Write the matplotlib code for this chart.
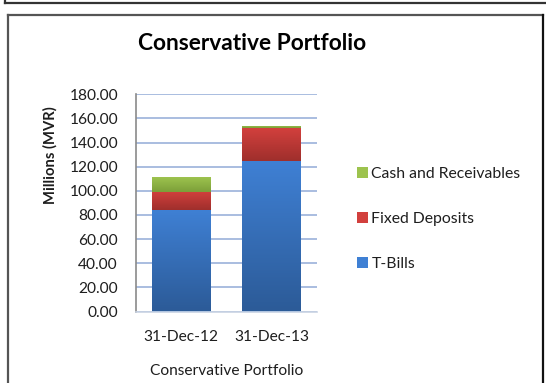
import numpy as np
import matplotlib
matplotlib.use("Agg")
import matplotlib.pyplot as plt
from matplotlib.colors import LinearSegmentedColormap
from matplotlib.patches import Patch
from matplotlib.lines import Line2D

# Data (millions of MVR)
dates = ["31-Dec-12", "31-Dec-13"]
t_bills = [84.2, 124.7]
fixed_deposits = [15.2, 27.0]
cash_receivables = [11.7, 2.2]
y_ticks = [0, 20, 40, 60, 80, 100, 120, 140, 160, 180]

series = [
    ("T-Bills", t_bills, "#3F80D4", "#2C5B98"),
    ("Fixed Deposits", fixed_deposits, "#D2403D", "#9F2F2C"),
    ("Cash and Receivables", cash_receivables, "#9DC34E", "#7C9F39"),
]

plt.rcParams["font.family"] = ["Lato", "DejaVu Sans"]

W, H = 546, 383
fig = plt.figure(figsize=(W / 100, H / 100), dpi=100)
fig.patch.set_facecolor("white")

ax = fig.add_axes([136 / W, 1 - 311.5 / H, 181 / W, 217.2 / H])
x = np.arange(len(dates))
bar_w = 0.65
bottoms = np.zeros(len(dates))
handles = []
for name, vals, top_c, bot_c in series:
    bars = ax.bar(x, vals, bar_w, bottom=bottoms, color=top_c, linewidth=0, zorder=2)
    cmap = LinearSegmentedColormap.from_list(name, [bot_c, top_c])
    grad = np.linspace(0, 1, 64).reshape(-1, 1)
    for rect in bars:
        x0, y0 = rect.get_x(), rect.get_y()
        w, h = rect.get_width(), rect.get_height()
        im = ax.imshow(grad, extent=[x0, x0 + w, y0, y0 + h], origin="lower",
                       aspect="auto", cmap=cmap, zorder=3, interpolation="bilinear")
        im.set_clip_path(rect)
    handles.append(Patch(facecolor=top_c, label=name))
    bottoms = bottoms + np.array(vals)

ax.set_xlim(-0.5, len(dates) - 0.5)
ax.set_ylim(0, 180)
ax.set_yticks(y_ticks)
ax.set_yticklabels([f"{v:.2f}" for v in y_ticks])
ax.set_xticks(x)
ax.set_xticklabels(dates)
ax.tick_params(axis="both", length=0, labelsize=11.2, colors="#1E1E1E")
ax.tick_params(axis="y", pad=13)
ax.tick_params(axis="x", pad=13)
ax.yaxis.grid(True, color="#A9BDE0", linewidth=1.4, zorder=0)
ax.set_axisbelow(True)
for s in ["top", "right"]:
    ax.spines[s].set_visible(False)
ax.spines["left"].set_color("#8A8A8A")
ax.spines["left"].set_linewidth(1.2)
ax.spines["bottom"].set_color("#C9D3E3")
ax.spines["bottom"].set_linewidth(1.2)

ax.set_xlabel("Conservative Portfolio", fontsize=11.2, color="#1E1E1E", labelpad=15)

fig.text(252 / W, 1 - 43 / H, "Conservative Portfolio", ha="center", va="center",
         fontsize=16.4, fontweight="bold", color="black")
fig.text(50 / W, 1 - 155 / H, "Millions (MVR)", ha="center", va="center",
         rotation=90, fontsize=10.6, fontweight="bold", color="#1E1E1E")

leg = fig.legend(handles=handles[::-1], loc="upper left",
                 bbox_to_anchor=(343 / W, 1 - 153 / H), frameon=False,
                 fontsize=11.3, handlelength=0.7, handleheight=0.7,
                 handletextpad=0.2, labelspacing=1.97)
for t in leg.get_texts():
    t.set_color("#1E1E1E")

# Chart frame and edge of the block above it
fig.add_artist(Line2D([5 / W, 1], [1 - 2.5 / H] * 2, color="#333333", lw=1.6))
fig.add_artist(Line2D([5 / W] * 2, [1, 1 - 2.5 / H], color="#333333", lw=1.6))
fig.add_artist(Line2D([7.5 / W, 542.5 / W], [1 - 14.5 / H] * 2, color="#555555", lw=1.6))
fig.add_artist(Line2D([7.5 / W] * 2, [0, 1 - 14.5 / H], color="#555555", lw=1.6))
fig.add_artist(Line2D([542.5 / W] * 2, [0, 1 - 14.5 / H], color="#111111", lw=1.6))

fig.savefig("out.png", dpi=100, facecolor="white")
